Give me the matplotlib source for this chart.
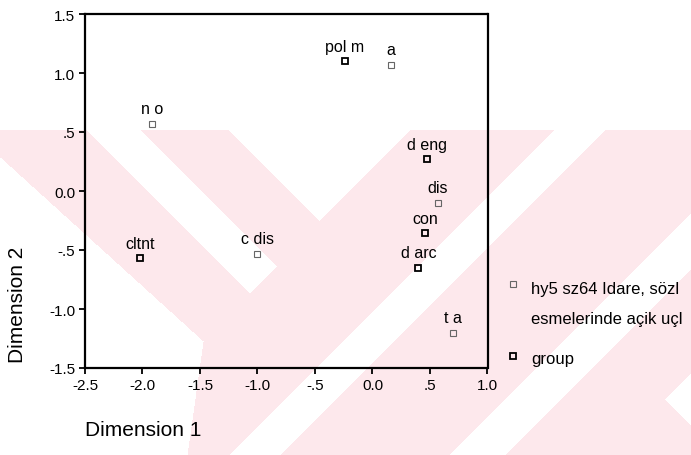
import numpy as np
import matplotlib
matplotlib.use('Agg')
import matplotlib.pyplot as plt
from matplotlib.lines import Line2D
from matplotlib.path import Path

plt.rcParams['font.family'] = ['Liberation Sans', 'DejaVu Sans']

# answer categories
answer_labels = ['n o', 'a', 'dis', 'c dis', 't a']
answer_dim1 = [-1.92, 0.16, 0.57, -1.00, 0.70]
answer_dim2 = [0.57, 1.07, -0.10, -0.53, -1.20]

# groups
group_labels = ['pol m', 'cltnt', 'd eng', 'con', 'd arc']
group_dim1 = [-0.24, -2.02, 0.47, 0.46, 0.40]
group_dim2 = [1.10, -0.57, 0.27, -0.36, -0.65]

xticks = [-2.5, -2.0, -1.5, -1.0, -0.5, 0.0, 0.5, 1.0]
xticklabels = ['-2.5', '-2.0', '-1.5', '-1.0', '-.5', '0.0', '.5', '1.0']
yticks = [-1.5, -1.0, -0.5, 0.0, 0.5, 1.0, 1.5]
yticklabels = ['-1.5', '-1.0', '-.5', '0.0', '.5', '1.0', '1.5']

legend_answer = 'hy5 sz64 Idare, sözl'
legend_answer2 = 'esmelerinde açik uçl'
legend_group = 'group'

W, H = 691, 456
fig = plt.figure(figsize=(W / 100, H / 100), dpi=100, facecolor='white')

# pale striped page pattern behind the chart (pixel grid, y down)
yy, xx = np.mgrid[0:H, 0:W]
d = xx - yy
s = xx + yy
gap = (d >= -44) & (d <= 9) & (s <= 543)
gap |= (d >= 98) & (s <= 540)
gap |= (s >= 685) & (s <= 735)
gap |= (s >= 905) & (s <= 960)
gap |= (s >= 1065) & (d >= 265)
corner = Path([(0, 158), (203, 342), (187, 456), (0, 456)])
pts = np.column_stack([xx.ravel(), yy.ravel()])
gap |= corner.contains_points(pts).reshape(H, W)
band = (yy >= 131) & ~gap
bg = np.ones((H, W, 3))
bg[band] = np.array([253, 232, 236]) / 255.0
fig.figimage(bg, 0, 0, zorder=-1)

ax = fig.add_axes([85 / W, 1 - 369 / H, (487.5 - 85) / W, (369 - 15) / H])
ax.set_facecolor('none')
ax.set_xlim(-2.5, 1.0)
ax.set_ylim(-1.5, 1.5)
for sp in ax.spines.values():
    sp.set_linewidth(1.6)
ax.set_xticks(xticks, xticklabels)
ax.set_yticks(yticks, yticklabels)
ax.tick_params(direction='out', length=4, width=1.3, labelsize=11, pad=3)

ax.plot(answer_dim1, answer_dim2, 's', ms=4.5, mfc='none', mec='#666666', mew=0.8)
ax.plot(group_dim1, group_dim2, 's', ms=4.5, mfc='none', mec='black', mew=1.3)

for lab, x, y in zip(answer_labels + group_labels,
                     answer_dim1 + group_dim1, answer_dim2 + group_dim2):
    ax.annotate(lab, (x, y), xytext=(0, 5.5), textcoords='offset points',
                ha='center', va='bottom', fontsize=11.5)

fig.text(18 / W, 1 - 305 / H, 'Dimension 2', rotation=90,
         ha='center', va='center', fontsize=15)
fig.text(85 / W, 1 - 431 / H, 'Dimension 1', ha='left', va='center', fontsize=15)

# legend
fig.add_artist(Line2D([513 / W], [1 - 285 / H], marker='s', ms=4.5, mfc='none',
                      mec='#666666', mew=0.8, ls='none'))
fig.add_artist(Line2D([513 / W], [1 - 357 / H], marker='s', ms=4.5, mfc='none',
                      mec='black', mew=1.3, ls='none'))
fig.text(531 / W, 1 - 290 / H, legend_answer, va='center', fontsize=12)
fig.text(531 / W, 1 - 320 / H, legend_answer2, va='center', fontsize=12)
fig.text(531 / W, 1 - 360 / H, legend_group, va='center', fontsize=12)

fig.savefig('out.png', dpi=100)
